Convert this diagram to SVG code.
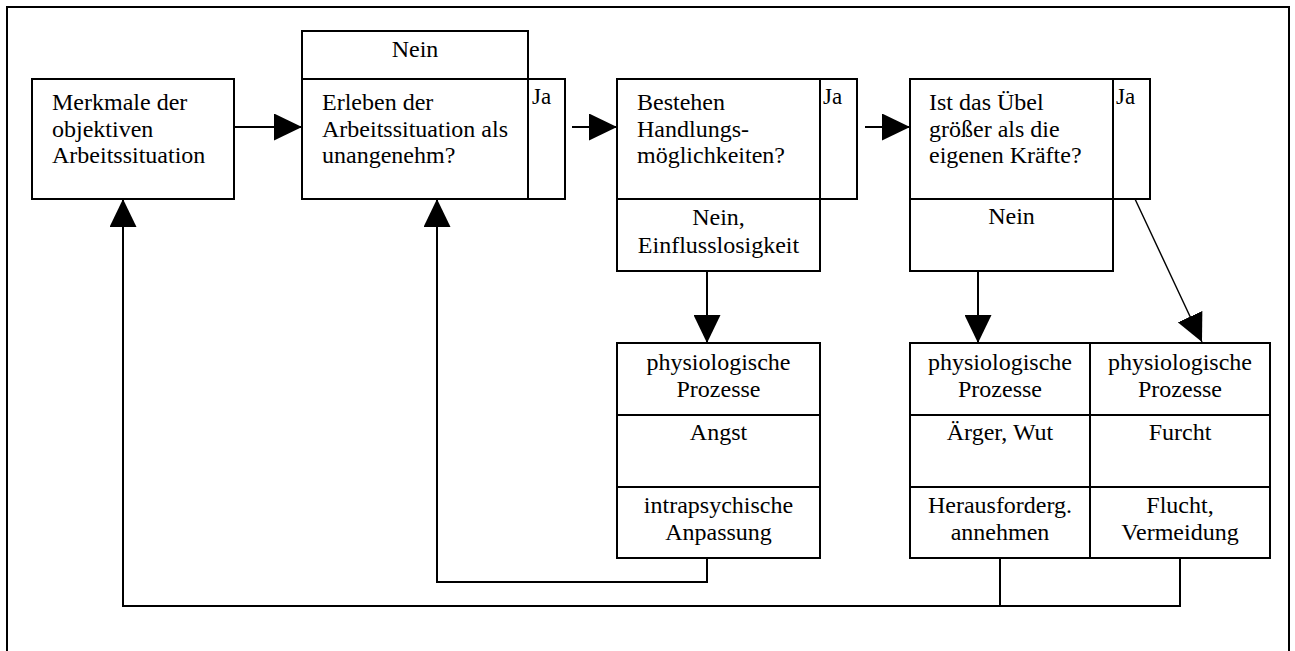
<svg xmlns="http://www.w3.org/2000/svg" width="1295" height="651" viewBox="0 0 1295 651">
<style>
.b{fill:#fff;stroke:#000;stroke-width:2}
text{font-family:'Liberation Serif','Times New Roman',serif;fill:#000}
.t{font-size:24px}
.c{text-anchor:middle}
.j{font-size:23px}
.l{fill:none;stroke:#000;stroke-width:2}
.d{fill:none;stroke:#000;stroke-width:1.4}
</style>
<defs>
<marker id="ah" viewBox="0 0 28 27" refX="28" refY="13.5" markerWidth="28" markerHeight="27" markerUnits="userSpaceOnUse" orient="auto">
<path d="M0,0 L28,13.5 L0,27 Z" fill="#000"/>
</marker>
</defs>
<rect width="1295" height="651" fill="#fff"/>
<rect x="7" y="7" width="1282" height="660" fill="none" stroke="#000" stroke-width="2"/>

<g id="n-merkmale">
<rect class="b" x="32" y="79" width="202" height="120"/>
<text class="t" x="52" y="110">Merkmale der</text>
<text class="t" x="52" y="137">objektiven</text>
<text class="t" x="52" y="163">Arbeitssituation</text>
</g>

<g id="n-erleben">
<rect class="b" x="302" y="31" width="226" height="48"/>
<text class="t c" x="415" y="57">Nein</text>
<rect class="b" x="302" y="79" width="226" height="120"/>
<rect class="b" x="528" y="79" width="37" height="120"/>
<text class="j" x="532" y="104">Ja</text>
<text class="t" x="322" y="110">Erleben der</text>
<text class="t" x="322" y="137">Arbeitssituation als</text>
<text class="t" x="322" y="163">unangenehm?</text>
</g>

<g id="n-bestehen">
<rect class="b" x="617" y="79" width="203" height="120"/>
<rect class="b" x="820" y="79" width="37" height="120"/>
<text class="j" x="823" y="104">Ja</text>
<text class="t" x="637" y="110">Bestehen</text>
<text class="t" x="637" y="137">Handlungs-</text>
<text class="t" x="637" y="163">möglichkeiten?</text>
<rect class="b" x="617" y="199" width="203" height="72"/>
<text class="t c" x="718.5" y="225">Nein,</text>
<text class="t c" x="718.5" y="253">Einflusslosigkeit</text>
</g>

<g id="n-uebel">
<rect class="b" x="910" y="79" width="203" height="120"/>
<rect class="b" x="1113" y="79" width="37" height="120"/>
<text class="j" x="1116" y="104">Ja</text>
<text class="t" x="929" y="110">Ist das Übel</text>
<text class="t" x="929" y="137">größer als die</text>
<text class="t" x="929" y="163">eigenen Kräfte?</text>
<rect class="b" x="910" y="199" width="203" height="72"/>
<text class="t c" x="1011.5" y="224">Nein</text>
</g>

<g id="n-angst">
<rect class="b" x="617" y="343" width="203" height="72"/>
<rect class="b" x="617" y="415" width="203" height="72"/>
<rect class="b" x="617" y="487" width="203" height="71"/>
<text class="t c" x="718.5" y="370">physiologische</text>
<text class="t c" x="718.5" y="397">Prozesse</text>
<text class="t c" x="718.5" y="440">Angst</text>
<text class="t c" x="718.5" y="513">intrapsychische</text>
<text class="t c" x="718.5" y="540">Anpassung</text>
</g>

<g id="n-aerger">
<rect class="b" x="910" y="343" width="180" height="72"/>
<rect class="b" x="910" y="415" width="180" height="72"/>
<rect class="b" x="910" y="487" width="180" height="71"/>
<text class="t c" x="1000" y="370">physiologische</text>
<text class="t c" x="1000" y="397">Prozesse</text>
<text class="t c" x="1000" y="440">Ärger, Wut</text>
<text class="t c" x="1000" y="513">Herausforderg.</text>
<text class="t c" x="1000" y="540">annehmen</text>
</g>

<g id="n-furcht">
<rect class="b" x="1090" y="343" width="180" height="72"/>
<rect class="b" x="1090" y="415" width="180" height="72"/>
<rect class="b" x="1090" y="487" width="180" height="71"/>
<text class="t c" x="1180" y="370">physiologische</text>
<text class="t c" x="1180" y="397">Prozesse</text>
<text class="t c" x="1180" y="440">Furcht</text>
<text class="t c" x="1180" y="513">Flucht,</text>
<text class="t c" x="1180" y="540">Vermeidung</text>
</g>

<g id="connectors">
<line class="l" x1="235" y1="127" x2="302" y2="127" marker-end="url(#ah)"/>
<line class="l" x1="572" y1="127" x2="617" y2="127" marker-end="url(#ah)"/>
<line class="l" x1="865" y1="127" x2="910" y2="127" marker-end="url(#ah)"/>
<line class="l" x1="707" y1="271" x2="707" y2="343" marker-end="url(#ah)"/>
<line class="l" x1="978" y1="271" x2="978" y2="343" marker-end="url(#ah)"/>
<line class="d" x1="1135" y1="199" x2="1202" y2="342" marker-end="url(#ah)"/>
<polyline class="l" points="707,558 707,582 437,582 437,199" marker-end="url(#ah)"/>
<polyline class="l" points="1000,558 1000,606 123,606 123,199" marker-end="url(#ah)"/>
<polyline class="l" points="1180,558 1180,606 1000,606"/>
</g>
</svg>
